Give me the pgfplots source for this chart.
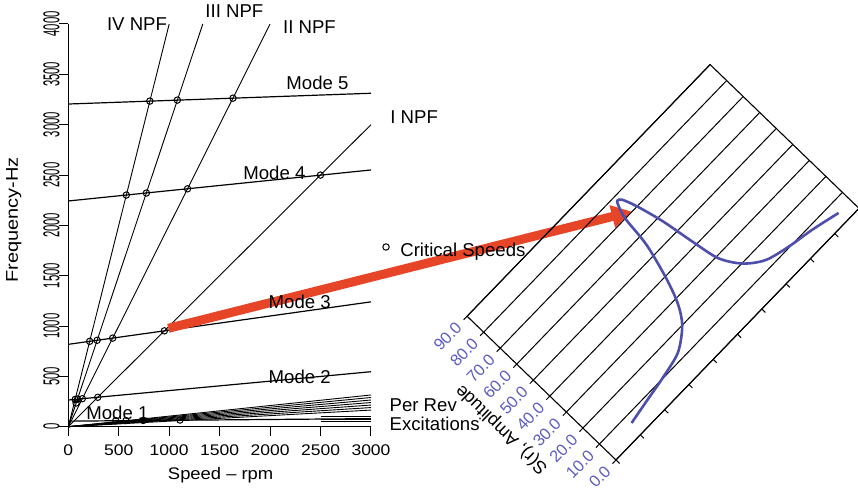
\documentclass[border=0pt]{standalone}
\usepackage{pgfplots}
\pgfplotsset{compat=1.18}
\usepackage{fontspec}
\setmainfont{Liberation Sans}
\usetikzlibrary{arrows.meta}

\definecolor{arrowred}{RGB}{231,69,40}
\definecolor{curveblue}{RGB}{78,78,172}
\definecolor{labelblue}{RGB}{92,92,190}

\newcommand{\lbl}{\fontsize{9.3}{11}\selectfont}
\tikzset{
  ln/.style={black, line width=0.45pt},
  md/.style={black, line width=0.6pt},
  crit/.style={black, only marks, mark=o, mark size=1.6pt, mark options={line width=0.5pt}},
}

\begin{document}
\begin{tikzpicture}
\useasboundingbox (0,0) rectangle (429pt,245.5pt);

% Campbell diagram: frequency vs. rotor speed
\begin{axis}[
  at={(34.15pt,32.15pt)}, anchor=south west,
  scale only axis, width=151.35pt, height=201.35pt,
  xmin=0, xmax=3000, ymin=0, ymax=4000,
  axis x line*=bottom, axis y line*=left,
  axis line style={-, line width=0.5pt},
  xtick={0,500,...,3000}, ytick={0,500,...,4000},
  tick align=outside, major tick length=4.75pt,
  tick style={black, line width=0.5pt},
  /pgf/number format/assume math mode=true,
  /pgf/number format/1000 sep={},
  scaled ticks=false,
  xticklabel style={font=\fontsize{8.75}{10}\selectfont, yscale=0.88, inner sep=0pt, anchor=north},
  xticklabel shift=4.25pt,
  yticklabel={\rotatebox{90}{\scalebox{0.49}[1]{\pgfmathprintnumber[assume math mode=true,1000 sep={}]{\tick}}}},
  yticklabel style={font=\fontsize{11.5}{13}\selectfont, anchor=east, inner sep=0pt},
  yticklabel shift=-0.6pt,
  clip=false,
]
% nodal pressure frequency lines
\addplot[ln] coordinates {(0,0) (3000,3000)};
\addplot[ln] coordinates {(0,0) (2000,4000)};
\addplot[ln] coordinates {(0,0) (1333,4000)};
\addplot[ln] coordinates {(0,0) (1000,4000)};
% natural frequencies of the modes
\addplot[md] coordinates {(0,3205) (3000,3312)};
\addplot[md] coordinates {(0,2242) (3000,2550)};
\addplot[md] coordinates {(0,818) (3000,1240)};
\addplot[md] coordinates {(0,265) (3000,546)};
\addplot[md] coordinates {(0,55) (3000,80)};
% per rev excitation lines
\addplot[ln] coordinates {(0,0) (3000,315)};
\addplot[ln] coordinates {(0,0) (3000,290)};
\addplot[ln] coordinates {(0,0) (3000,265)};
\addplot[ln] coordinates {(0,0) (3000,240)};
\addplot[ln] coordinates {(0,0) (3000,215)};
\addplot[ln] coordinates {(0,0) (3000,190)};
\addplot[ln] coordinates {(0,0) (3000,165)};
\addplot[ln] coordinates {(2500,100) (3000,100)};
\addplot[ln] coordinates {(2500,75) (3000,75)};
\addplot[ln] coordinates {(2500,50) (3000,50)};
% critical speeds
\addplot[crit] coordinates {
  (808,3234) (1081,3244) (1632,3263)
  (575,2301) (774,2321) (1182,2363) (2499,2499)
  (212,848) (286,858) (440,880) (952,952)
  (68,271) (91,274) (139,278) (292,292) (77,235)
  (470,60) (572,61) (743,62) (1107,66)
};
% arrow to the response curve
\addplot[arrowred, line width=4.5pt, -{Triangle[length=10pt,width=11pt]}] coordinates {(991,977) (5584,2136)};
% legend entry
\addplot[crit] coordinates {(3149,1785)};
\node[anchor=base west, inner sep=0pt, font=\lbl] at (axis cs:3287,1689) {Critical Speeds};
% line labels
\node[anchor=base west, inner sep=0pt, font=\lbl] at (axis cs:380,3934) {IV NPF};
\node[anchor=base west, inner sep=0pt, font=\lbl] at (axis cs:1355,4067) {III NPF};
\node[anchor=base west, inner sep=0pt, font=\lbl] at (axis cs:2125,3901) {II NPF};
\node[anchor=base west, inner sep=0pt, font=\lbl] at (axis cs:3188,3007) {I NPF};
\node[anchor=base west, inner sep=0pt, font=\lbl] at (axis cs:2158,3345) {Mode 5};
\node[anchor=base west, inner sep=0pt, font=\lbl] at (axis cs:1731,2451) {Mode 4};
\node[anchor=base west, inner sep=0pt, font=\lbl] at (axis cs:1982,1176) {Mode 3};
\node[anchor=base west, inner sep=0pt, font=\lbl] at (axis cs:1982,431) {Mode 2};
\node[anchor=base west, inner sep=0pt, font=\lbl] at (axis cs:175,67) {Mode 1};
\node[anchor=base west, inner sep=0pt, font=\lbl] at (axis cs:3181,149) {Per Rev};
\node[anchor=base west, inner sep=0pt, font=\lbl] at (axis cs:3181,-40) {Excitations};
% axis titles
\node[anchor=base, inner sep=0pt, font=\fontsize{9.2}{11}\selectfont, yscale=0.91] at (axis cs:1510,-520) {Speed -- rpm};
\node[anchor=base, inner sep=0pt, font=\fontsize{10}{12}\selectfont, rotate=90, yscale=0.85] at (axis cs:-500,2053) {Frequency-Hz};
\end{axis}

% response amplitude, drawn on a tilted frame
\begin{scope}[shift={(308pt,15.5pt)}, rotate=46, transform shape]
\begin{axis}[
  at={(0,0)}, anchor=south west,
  scale only axis, width=174.9pt, height=103.5pt,
  xmin=0, xmax=10, ymin=0, ymax=90,
  xtick={0,...,10}, xticklabels={}, ytick={0,10,...,90},
  xtick pos=left, ytick pos=left,
  ymajorgrids, grid style={black, line width=0.5pt},
  axis line style={black, line width=0.55pt},
  tick align=outside, major tick length=2.5pt,
  tick style={black, line width=0.5pt},
  yticklabel style={font=\fontsize{8.2}{10}\selectfont, text=labelblue},
  ylabel={S(r), Amplitude},
  ylabel style={font=\fontsize{9}{10}\selectfont, at={(axis description cs:-0.163,0.5)}, anchor=center},
  /pgf/number format/fixed,
  /pgf/number format/fixed zerofill,
  /pgf/number format/precision=1,
  /pgf/number format/assume math mode=true,
]
\addplot[curveblue, line width=1.3pt, smooth, tension=0.5] coordinates {
  (1.07,6.3) (1.85,8.3) (2.62,10.2) (3.44,13.1) (4.08,19.9) (4.44,27.8)
  (4.73,39.0) (5.03,55.4) (5.15,70.2) (5.29,76.4) (5.36,77.9) (5.47,76.8)
  (5.63,70.2) (5.84,57.3) (6.01,41.9) (6.18,29.0) (6.55,19.8) (7.08,13.6)
  (7.82,10.4) (8.62,8.2) (9.50,5.0)
};
\end{axis}
\end{scope}
\end{tikzpicture}
\end{document}
